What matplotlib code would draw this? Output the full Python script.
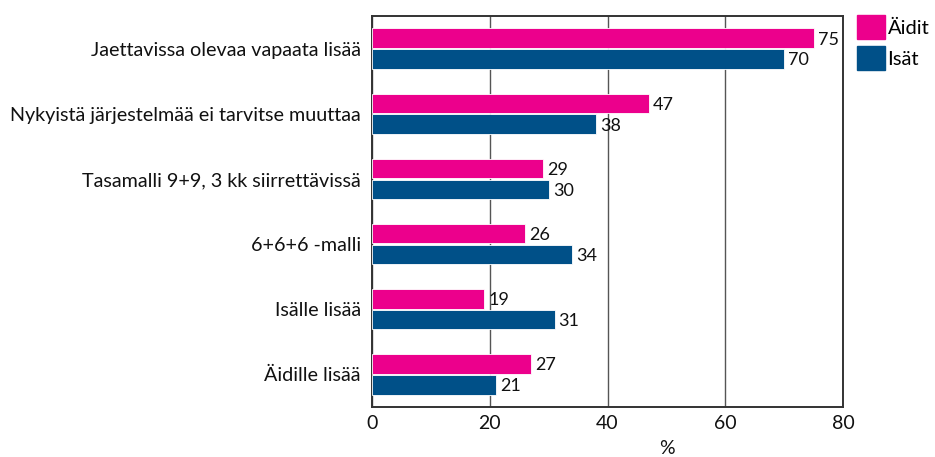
import matplotlib
matplotlib.use("Agg")
import matplotlib.pyplot as plt
import numpy as np

plt.rcParams['font.family'] = ['Lato', 'DejaVu Sans']

categories = ["Jaettavissa olevaa vapaata lisää",
              "Nykyistä järjestelmää ei tarvitse muuttaa",
              "Tasamalli 9+9, 3 kk siirrettävissä",
              "6+6+6 -malli",
              "Isälle lisää",
              "Äidille lisää"]
aidit = [75, 47, 29, 26, 19, 27]
isat = [70, 38, 30, 34, 31, 21]
series_names = ["Äidit", "Isät"]
xticks = [0, 20, 40, 60, 80]

c_aidit = "#EC008C"
c_isat = "#005088"

fig = plt.figure(figsize=(9.35, 4.57), dpi=100)
ax = fig.add_axes([372/935, 1-407/457, (843-372)/935, (407-16)/457])

n = len(categories)
y = np.arange(n)
h = 0.30
b1 = ax.barh(y - h/2 - 0.01, aidit, height=h, color=c_aidit, edgecolor="white", linewidth=0.6, label=series_names[0], zorder=3)
b2 = ax.barh(y + h/2 + 0.01, isat, height=h, color=c_isat, edgecolor="white", linewidth=0.6, label=series_names[1], zorder=3)

for bars, vals in ((b1, aidit), (b2, isat)):
    for r, v in zip(bars, vals):
        ax.annotate(str(v), (v, r.get_y() + r.get_height()/2), xytext=(3, -1),
                    textcoords="offset points", va="center", ha="left", fontsize=13, color="#111111")

ax.set_ylim(n - 0.5, -0.5)
ax.set_xlim(0, 80)
ax.set_yticks(y)
ax.set_yticklabels(categories, fontsize=14.2, color="#111111")
ax.set_xticks(xticks)
ax.set_xticklabels([str(t) for t in xticks], fontsize=14, color="#111111")
ax.tick_params(axis='y', length=0, pad=8)
ax.tick_params(axis='x', length=0, pad=6)
ax.grid(axis='x', color="#555555", linewidth=1.0, zorder=0)
ax.set_axisbelow(True)
for s in ax.spines.values():
    s.set_color("#333333")
    s.set_linewidth(1.4)
ax.set_xlabel("%", fontsize=14, color="#111111", labelpad=6)
ax.xaxis.set_label_coords((667-372)/471, -0.085)

handles = [plt.Rectangle((0, 0), 1, 1, color=c_aidit), plt.Rectangle((0, 0), 1, 1, color=c_isat)]
fig.legend(handles, series_names, loc="upper left", bbox_to_anchor=(857/935, 1-15/457),
           frameon=False, fontsize=14.5, handlelength=1.4, handleheight=1.45,
           handletextpad=0.12, labelspacing=0.35, borderpad=0.0, borderaxespad=0.0)

fig.savefig("out.png", dpi=100)
